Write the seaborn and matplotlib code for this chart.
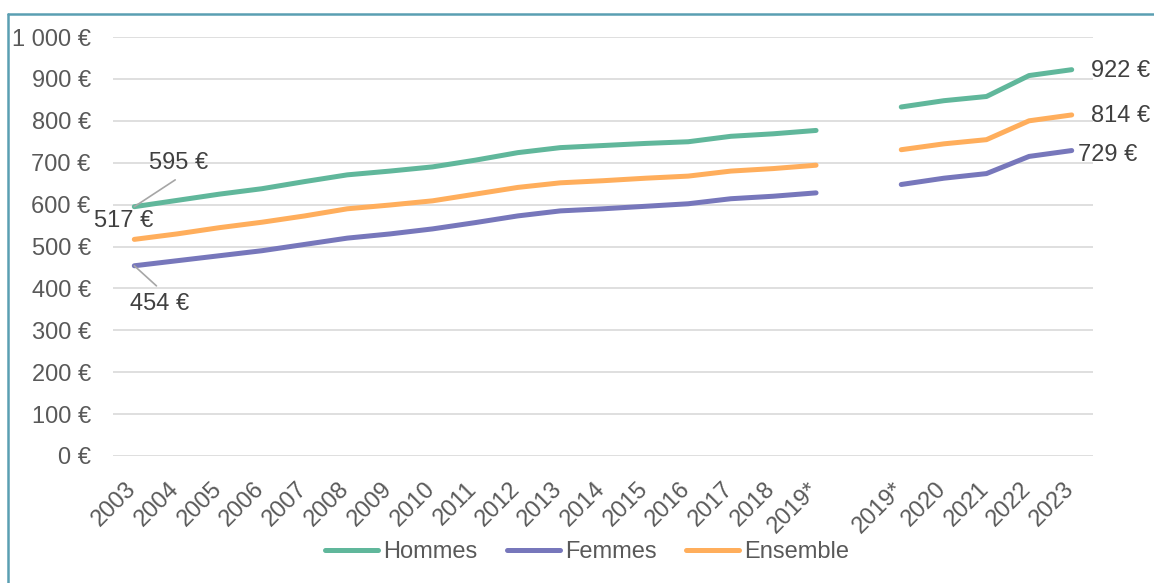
import matplotlib
matplotlib.use("Agg")
import matplotlib.pyplot as plt
import matplotlib.transforms as mtransforms
import seaborn as sns
import pandas as pd
import numpy as np
from matplotlib.lines import Line2D

sns.set_theme(style="white")
plt.rcParams['font.family'] = ['Liberation Sans', 'DejaVu Sans']

years = ["2003", "2004", "2005", "2006", "2007", "2008", "2009", "2010", "2011",
         "2012", "2013", "2014", "2015", "2016", "2017", "2018", "2019*",
         "", "2019*", "2020", "2021", "2022", "2023"]
hommes = [595, 610, 625, 638, 655, 671, 680, 690, 706, 724, 736, 741, 746, 750,
          763, 769, 777, np.nan, 833, 848, 858, 908, 922]
femmes = [454, 466, 478, 490, 505, 520, 530, 542, 557, 573, 585, 590, 596, 602,
          614, 620, 628, np.nan, 648, 663, 674, 715, 729]
ensemble = [517, 530, 545, 558, 573, 590, 599, 609, 625, 641, 652, 657, 663, 668,
            680, 686, 694, np.nan, 731, 745, 755, 800, 814]
series_names = ["Hommes", "Femmes", "Ensemble"]
colors = {"Hommes": "#60b79b", "Femmes": "#7777bb", "Ensemble": "#ffae5c"}
yticks = [0, 100, 200, 300, 400, 500, 600, 700, 800, 900, 1000]
ytick_labels = ["0 €", "100 €", "200 €", "300 €", "400 €", "500 €", "600 €",
                "700 €", "800 €", "900 €", "1 000 €"]

FS = 17
LW = 3.6

pos = np.arange(len(years))
df = pd.DataFrame({"pos": pos, "Hommes": hommes, "Femmes": femmes, "Ensemble": ensemble})
long = df.melt(id_vars="pos", var_name="Série", value_name="val")

fig = plt.figure(figsize=(11.54, 5.83), dpi=100)
ax = fig.add_axes([113/1154, 1-456/583, 980/1154, 419/583])

for name in series_names:
    sub = long[long["Série"] == name]
    for seg in (sub[sub["pos"] < 17], sub[sub["pos"] > 17]):
        sns.lineplot(data=seg, x="pos", y="val", ax=ax, color=colors[name],
                     linewidth=LW, solid_capstyle="round", legend=False)

ax.set_xlim(-0.5, len(years) - 0.5)
ax.set_ylim(0, 1000)
ax.set_yticks(yticks)
ax.set_yticklabels(ytick_labels, color="#595959", fontsize=FS)
ax.set_xticks(pos)
ax.set_xticklabels(years, rotation=45, ha="right", rotation_mode="anchor",
                   color="#595959", fontsize=FS)
ax.tick_params(axis="y", length=0, pad=16)
ax.tick_params(axis="x", length=0, pad=16)
shift = mtransforms.ScaledTranslation(-0.09, 0, fig.dpi_scale_trans)
for lab in ax.get_xticklabels():
    lab.set_transform(lab.get_transform() + shift)
ax.set_xlabel("")
ax.set_ylabel("")
ax.yaxis.grid(True, color="#d9d9d9", linewidth=1.2)
ax.set_axisbelow(True)
for s in ax.spines.values():
    s.set_visible(False)

tc = "#404040"
lc = "#a6a6a6"
# start labels with leader lines
ax.annotate("", xy=(0, hommes[0]), xytext=(0.96, 659),
            arrowprops=dict(arrowstyle="-", color=lc, lw=1.2, shrinkA=0, shrinkB=0))
ax.text(1.03, 699, f"{hommes[0]} €", fontsize=FS, color=tc, ha="center", va="center")
ax.text(0.45, 561, f"{ensemble[0]} €", fontsize=FS, color=tc, ha="right", va="center")
ax.annotate("", xy=(0, femmes[0]), xytext=(0.52, 406),
            arrowprops=dict(arrowstyle="-", color=lc, lw=1.2, shrinkA=0, shrinkB=0))
ax.text(0.59, 363, f"{femmes[0]} €", fontsize=FS, color=tc, ha="center", va="center")
# end labels
last = len(years) - 1
ax.text(last + 0.45, 919, f"{hommes[-1]} €", fontsize=FS, color=tc, ha="left", va="center")
ax.text(last + 0.45, 811, f"{ensemble[-1]} €", fontsize=FS, color=tc, ha="left", va="center")
ax.text(last + 0.15, 718, f"{femmes[-1]} €", fontsize=FS, color=tc, ha="left", va="center")

handles = [Line2D([0], [0], color=colors[n], lw=LW, solid_capstyle="round") for n in series_names]
fig.legend(handles, series_names, loc="center", bbox_to_anchor=(587/1154, 1-552/583),
           ncol=3, frameon=False, fontsize=FS, handlelength=2.25, handletextpad=0.2,
           columnspacing=1.25, labelcolor="#595959", borderpad=0)

border_color = "#5a9fb2"
fig.add_artist(Line2D([8/1154, 8/1154], [0, 1-14/583], color=border_color, lw=1.8,
                      transform=fig.transFigure))
fig.add_artist(Line2D([8/1154, 1.0], [1-14/583, 1-14/583], color=border_color, lw=1.8,
                      transform=fig.transFigure))

fig.savefig("out.png", dpi=100)
